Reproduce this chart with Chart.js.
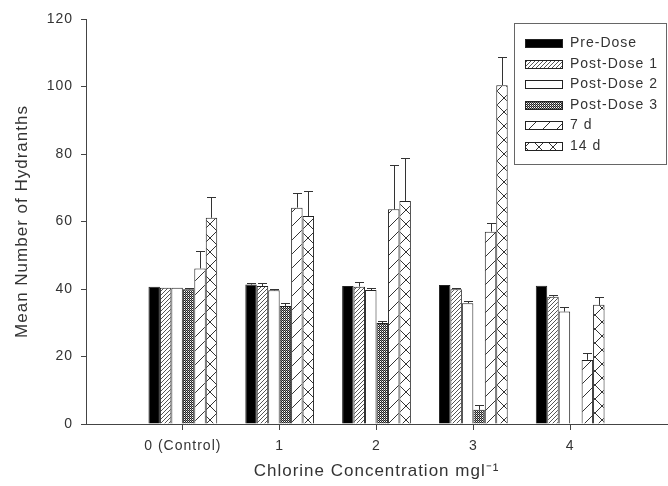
<!DOCTYPE html>
<html>
<head>
<meta charset="utf-8">
<script src="https://cdn.jsdelivr.net/npm/chart.js@4.4.1/dist/chart.umd.min.js"></script>
<style>
  html, body { margin: 0; padding: 0; background: #fff; }
  canvas { display: block; }
</style>
</head>
<body>
<canvas id="chart" width="668" height="486"></canvas>
<script>
// Hydranth counts per chlorine concentration, means with upper error bars
const categories = ['0 (Control)', '1', '2', '3', '4'];
const concentrations = [0, 1, 2, 3, 4];
const seriesNames = ['Pre-Dose', 'Post-Dose 1', 'Post-Dose 2', 'Post-Dose 3', '7 d', '14 d'];

const preDose      = [40.7, 41.3, 40.9, 41.2, 41.0];
const preDoseErr   = [0, 0.4, 0, 0, 0];
const postDose1    = [40.4, 40.9, 40.7, 39.9, 37.7];
const postDose1Err = [0, 1.0, 1.4, 0.5, 0.5];
const postDose2    = [40.4, 39.6, 39.7, 35.8, 33.3];
const postDose2Err = [0, 0.5, 0.5, 0.5, 1.3];
const postDose3    = [39.9, 35.0, 29.9, 4.2, 0];
const postDose3Err = [0.5, 1.0, 0.5, 1.5, 0];
const day7         = [46.1, 64.1, 63.6, 57.0, 19.0];
const day7Err      = [5.2, 4.2, 13.1, 2.5, 2.0];
const day14        = [61.1, 61.6, 66.1, 100.4, 35.3];
const day14Err     = [6.2, 7.4, 12.6, 8.4, 2.3];

const yTicks = [0, 20, 40, 60, 80, 100, 120];

const FONT = "'Liberation Sans', Arial, Helvetica, sans-serif";
const INK = '#333';
const AXIS = '#444';

// ---- fill patterns ----
function tile(size, draw) {
  const c = document.createElement('canvas');
  c.width = size; c.height = size;
  const g = c.getContext('2d');
  g.fillStyle = '#fff';
  g.fillRect(0, 0, size, size);
  draw(g, size);
  return document.getElementById('chart').getContext('2d').createPattern(c, 'repeat');
}
const fineHatch = tile(4, (g, n) => {
  g.fillStyle = '#555';
  for (let i = 0; i < n; i++) g.fillRect(i, n - 1 - i, 1, 1);
});
const dotted = tile(4, (g, n) => {
  for (let i = 0; i < n; i++) for (let j = 0; j < n; j++) {
    g.fillStyle = (i + j) % 2 === 0 ? '#222' : (i % 2 === 0 ? '#fff' : '#888');
    g.fillRect(i, j, 1, 1);
  }
});
const wideHatch = tile(14, (g, n) => {
  g.fillStyle = '#333';
  for (let i = 0; i < n; i++) g.fillRect(i, n - 1 - i, 1, 1);
});
const cross = tile(14, (g, n) => {
  g.fillStyle = '#333';
  for (let i = 0; i < n; i++) { g.fillRect(i, n - 1 - i, 1, 1); g.fillRect(i, i, 1, 1); }
});

const values = [preDose, postDose1, postDose2, postDose3, day7, day14];
const errors = [preDoseErr, postDose1Err, postDose2Err, postDose3Err, day7Err, day14Err];
const fills = ['#000', fineHatch, '#fff', dotted, wideHatch, cross];

const datasets = seriesNames.map((name, k) => ({
  label: name,
  data: concentrations.map((x, i) => ({ x: x, y: values[k][i] })),
  errors: errors[k],
  backgroundColor: fills[k],
  borderColor: '#222',
  borderWidth: 1
}));

// ---- plugins ----
const textSpacing = {
  id: 'textSpacing',
  beforeLayout(chart) { chart.ctx.letterSpacing = '1px'; },
  beforeDraw(chart) { chart.ctx.letterSpacing = '1px'; }
};

const errorBars = {
  id: 'errorBars',
  afterDatasetsDraw(chart) {
    const ctx = chart.ctx;
    const yScale = chart.scales.y;
    ctx.save();
    ctx.strokeStyle = '#333';
    ctx.lineWidth = 1;
    chart.data.datasets.forEach((ds, di) => {
      const meta = chart.getDatasetMeta(di);
      meta.data.forEach((bar, i) => {
        const e = ds.errors[i];
        if (!e) return;
        const x = Math.round(bar.x) + 0.5;
        const top = Math.round(yScale.getPixelForValue(ds.data[i].y + e)) + 0.5;
        ctx.beginPath();
        ctx.moveTo(x, bar.y);
        ctx.lineTo(x, top);
        ctx.moveTo(x - 4.5, top);
        ctx.lineTo(x + 4.5, top);
        ctx.stroke();
      });
    });
    ctx.restore();
  }
};

const boxLegend = {
  id: 'boxLegend',
  afterDraw(chart) {
    const ctx = chart.ctx;
    ctx.save();
    ctx.letterSpacing = '1px';
    ctx.strokeStyle = '#666';
    ctx.lineWidth = 1;
    ctx.strokeRect(514.5, 23.5, 152, 141);
    ctx.font = '14px ' + FONT;
    ctx.textBaseline = 'middle';
    ctx.textAlign = 'left';
    chart.data.datasets.forEach((ds, k) => {
      const cy = 43.5 + k * 20.5;
      const top = Math.round(cy - 4.5);
      ctx.fillStyle = ds.backgroundColor;
      ctx.fillRect(525, top, 38, 9);
      ctx.strokeStyle = '#222';
      ctx.strokeRect(525.5, top + 0.5, 37, 8);
      ctx.fillStyle = INK;
      ctx.fillText(ds.label, 570, cy);
    });
    ctx.restore();
  }
};

new Chart(document.getElementById('chart'), {
  type: 'bar',
  data: { datasets: datasets },
  plugins: [textSpacing, errorBars, boxLegend],
  options: {
    responsive: false,
    animation: false,
    devicePixelRatio: 1,
    layout: { padding: { top: 19, right: 1, left: 0, bottom: 0 } },
    datasets: { bar: { categoryPercentage: 0.71, barPercentage: 1 } },
    plugins: { legend: { display: false }, tooltip: { enabled: false } },
    scales: {
      x: {
        type: 'linear',
        min: -1,
        max: 5,
        offset: false,
        afterBuildTicks: s => { s.ticks = concentrations.map(v => ({ value: v })); },
        afterFit: s => { s.height = 62; },
        ticks: {
          callback: v => { const i = concentrations.indexOf(v); return i >= 0 ? categories[i] : ''; },
          color: INK,
          font: { family: FONT, size: 14 },
          padding: 8,
          maxRotation: 0,
          autoSkip: false
        },
        grid: { offset: false, drawOnChartArea: false, drawTicks: true, tickLength: 6, color: AXIS },
        border: { display: true, color: AXIS, width: 1 },
        title: {
          display: true,
          text: 'Chlorine Concentration mgl\u207B\u00B9',
          color: INK,
          font: { family: FONT, size: 17 },
          padding: { top: 0, bottom: 4 }
        }
      },
      y: {
        min: 0,
        max: 120,
        afterBuildTicks: s => { s.ticks = yTicks.map(v => ({ value: v })); },
        afterFit: s => { s.width = 86; },
        ticks: {
          color: INK,
          font: { family: FONT, size: 14 },
          padding: 8
        },
        grid: { drawOnChartArea: false, drawTicks: true, tickLength: 5, color: AXIS },
        border: { display: true, color: AXIS, width: 1 },
        title: {
          display: true,
          text: 'Mean Number of Hydranths',
          color: INK,
          font: { family: FONT, size: 17 },
          padding: { top: 12, bottom: 0 }
        }
      }
    }
  }
});
</script>
</body>
</html>
